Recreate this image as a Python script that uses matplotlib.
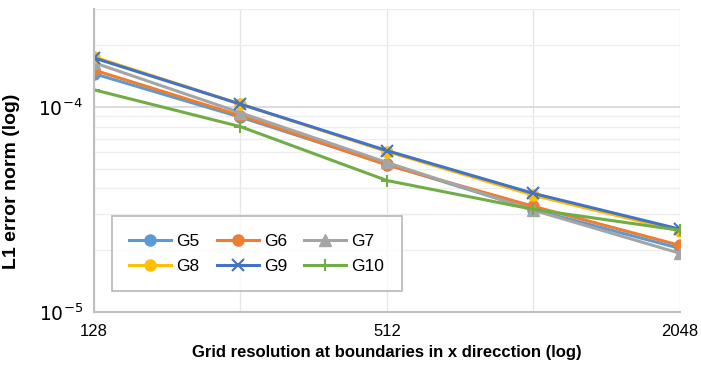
import numpy as np
import matplotlib
matplotlib.use("Agg")
import matplotlib.pyplot as plt
from matplotlib.ticker import FixedLocator, NullFormatter, LogLocator

# grid resolution (x) and L1 error per series
res = [128, 256, 512, 1024, 2048]
g5 = [1.45e-4, 0.89e-4, 5.25e-5, 3.15e-5, 2.04e-5]
g6 = [1.51e-4, 0.905e-4, 5.2e-5, 3.27e-5, 2.11e-5]
g7 = [1.64e-4, 0.935e-4, 5.35e-5, 3.13e-5, 1.93e-5]
g8 = [1.75e-4, 1.03e-4, 6.05e-5, 3.7e-5, 2.48e-5]
g9 = [1.73e-4, 1.03e-4, 6.11e-5, 3.78e-5, 2.53e-5]
g10 = [1.21e-4, 0.8e-4, 4.37e-5, 3.16e-5, 2.5e-5]
xticks = [128, 512, 2048]

series = [
    ("G5", g5, "#5B9BD5", "o"),
    ("G6", g6, "#ED7D31", "o"),
    ("G7", g7, "#A5A5A5", "^"),
    ("G8", g8, "#FFC000", "o"),
    ("G9", g9, "#4472C4", "x"),
    ("G10", g10, "#70AD47", "+"),
]
fam = ["Liberation Sans", "DejaVu Sans"]

fig = plt.figure(figsize=(7.01, 3.70), dpi=100)
ax = fig.add_axes([0.134, 0.157, 0.836, 0.819])

lines = []
for name, vals, col, mk in series:
    ms = 8 if mk in ("o", "^") else 9
    mew = 1.5 if mk in ("x", "+") else 1
    l, = ax.plot(res, vals, color=col, marker=mk, lw=2.2, ms=ms, mew=mew, label=name)
    lines.append(l)

ax.set_xscale("log")
ax.set_yscale("log")
ax.set_xlim(128, 2048)
ax.set_ylim(1e-5, 3e-4)

ax.xaxis.set_major_locator(FixedLocator(xticks))
ax.xaxis.set_minor_locator(FixedLocator([256, 1024]))
ax.xaxis.set_minor_formatter(NullFormatter())
ax.set_xticklabels([str(v) for v in xticks], family=fam, fontsize=12)

ax.yaxis.set_major_locator(FixedLocator([1e-5, 1e-4]))
ax.yaxis.set_minor_locator(LogLocator(base=10, subs=np.arange(2, 10)))
ax.yaxis.set_minor_formatter(NullFormatter())
ax.set_yticklabels([r"$\mathregular{10^{-5}}$", r"$\mathregular{10^{-4}}$"], fontsize=13.5)

ax.grid(True, which="major", axis="y", color="#d9d9d9", lw=1.3)
ax.grid(True, which="minor", axis="y", color="#ededed", lw=1.0)
ax.grid(True, which="both", axis="x", color="#e6e6e6", lw=1.0)
ax.set_axisbelow(True)
ax.tick_params(which="both", length=0, pad=9)
ax.tick_params(axis="y", pad=8)

for s in ["top", "right"]:
    ax.spines[s].set_visible(False)
for s in ["left", "bottom"]:
    ax.spines[s].set_color("#bfbfbf")
    ax.spines[s].set_linewidth(1.5)

ax.set_xlabel("Grid resolution at boundaries in x direcction (log)",
              family=fam, fontweight="bold", fontsize=12, labelpad=4)
ax.set_ylabel("L1 error norm (log)", family=fam,
              fontweight="bold", fontsize=14)
ax.yaxis.set_label_coords(-0.126, 0.432)

# legend reads row-wise: G5 G6 G7 / G8 G9 G10
order = [0, 3, 1, 4, 2, 5]
leg = ax.legend([lines[i] for i in order], [series[i][0] for i in order],
                ncol=3, loc="lower left", bbox_to_anchor=(0.031, 0.069),
                borderaxespad=0,
                prop={"family": fam, "size": 12.5},
                frameon=True, fancybox=False, edgecolor="#a6a6a6",
                handlelength=2.4, columnspacing=1.0, handletextpad=0.3,
                borderpad=1.0, labelspacing=0.55)
leg.get_frame().set_linewidth(1.2)

fig.savefig("out.png", dpi=100)
